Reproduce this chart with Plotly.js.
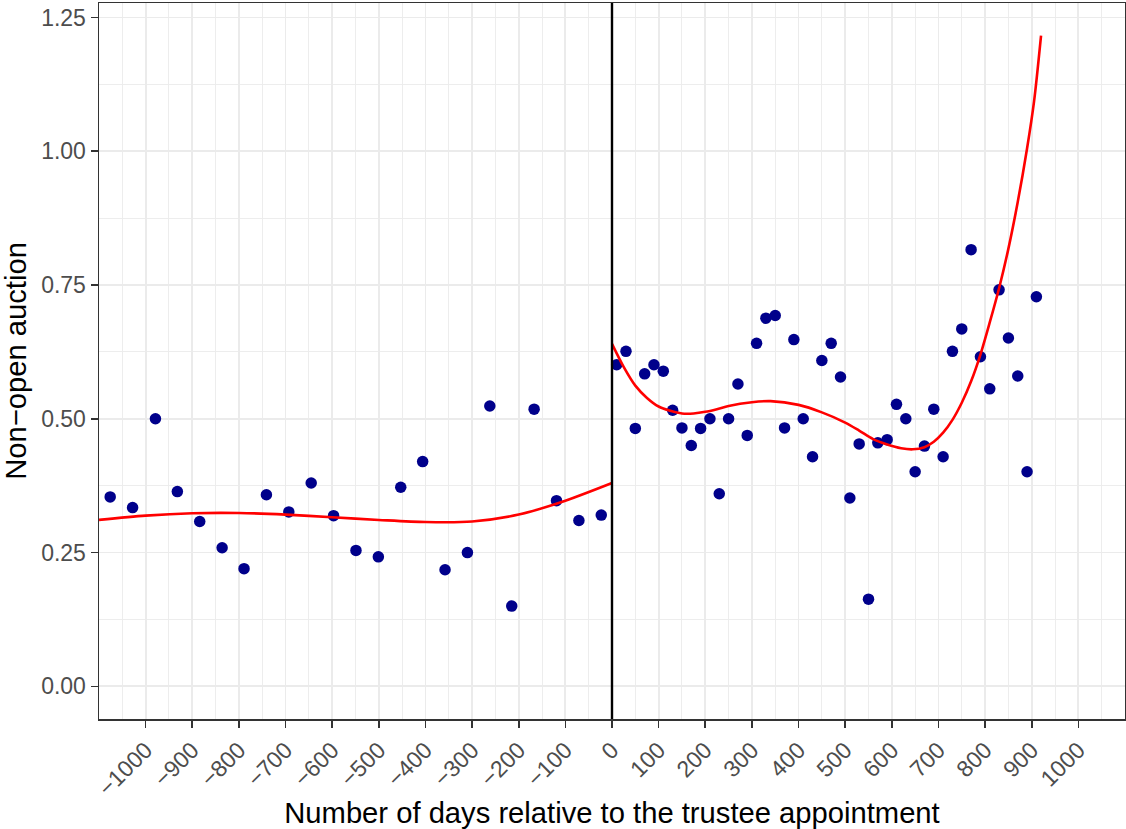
<!DOCTYPE html>
<html>
<head>
<meta charset="utf-8">
<script src="https://cdn.plot.ly/plotly-3.0.1.min.js"></script>
<style>html,body{margin:0;padding:0;background:#fff;}#chart{width:1126px;height:829px;}</style>
</head>
<body>
<div id="chart"></div>
<script>
// Points before the trustee appointment
const leftDays = [-1076, -1028, -979, -932, -884, -836, -789, -741, -693, -645, -597, -549, -501, -453, -406, -358, -310, -262, -215, -167, -119, -71, -23];
const leftShare = [0.354, 0.334, 0.500, 0.364, 0.308, 0.259, 0.220, 0.358, 0.326, 0.380, 0.319, 0.254, 0.242, 0.372, 0.420, 0.218, 0.250, 0.524, 0.150, 0.518, 0.347, 0.310, 0.320];

// Points after the trustee appointment
const rightDays = [10, 30, 50, 70, 90, 110, 130, 150, 170, 190, 210, 230, 250, 270, 290, 310, 330, 350, 370, 390, 410, 430, 450, 470, 490, 510, 530, 550, 570, 590, 610, 630, 650, 670, 690, 710, 730, 750, 770, 790, 810, 830, 850, 870, 890, 910];
const rightShare = [0.601, 0.626, 0.482, 0.584, 0.601, 0.589, 0.516, 0.483, 0.450, 0.482, 0.500, 0.360, 0.500, 0.565, 0.469, 0.641, 0.688, 0.693, 0.483, 0.648, 0.500, 0.429, 0.609, 0.641, 0.578, 0.352, 0.453, 0.163, 0.455, 0.461, 0.527, 0.500, 0.401, 0.449, 0.518, 0.429, 0.626, 0.668, 0.816, 0.616, 0.556, 0.741, 0.651, 0.580, 0.401, 0.728];

// Fitted curves
const leftFitDays = [-1100, -1000, -900, -800, -700, -600, -500, -400, -300, -200, -100, 0];
const leftFit = [0.311, 0.319, 0.3235, 0.324, 0.321, 0.316, 0.311, 0.307, 0.308, 0.321, 0.347, 0.380];
const rightFitDays = [0, 25, 50, 75, 100, 125, 150, 175, 200, 225, 250, 300, 340, 400, 450, 500, 530, 560, 590, 620, 645, 670, 690, 710, 730, 750, 770, 790, 810, 830, 850, 870, 890, 905, 920];
const rightFit = [0.640, 0.597, 0.562, 0.539, 0.523, 0.515, 0.510, 0.510, 0.513, 0.518, 0.524, 0.531, 0.533, 0.526, 0.512, 0.493, 0.478, 0.462, 0.452, 0.445, 0.443, 0.447, 0.457, 0.474, 0.498, 0.530, 0.570, 0.620, 0.680, 0.744, 0.818, 0.905, 1.005, 1.093, 1.216];

// Tick labels
const xTickVals = [-1000, -900, -800, -700, -600, -500, -400, -300, -200, -100, 0, 100, 200, 300, 400, 500, 600, 700, 800, 900, 1000];
const xTickText = ["\u22121000", "\u2212900", "\u2212800", "\u2212700", "\u2212600", "\u2212500", "\u2212400", "\u2212300", "\u2212200", "\u2212100", "0", "100", "200", "300", "400", "500", "600", "700", "800", "900", "1000"];
const yTickVals = [0, 0.25, 0.5, 0.75, 1.0, 1.25];
const yTickText = ["0.00", "0.25", "0.50", "0.75", "1.00", "1.25"];

const ptColor = '#00008B';
const fitColor = '#FF0000';
const font = '"Liberation Sans", Arial, sans-serif';

const traces = [
  {x: leftDays, y: leftShare, type: 'scatter', mode: 'markers', marker: {color: ptColor, size: 11.5}, showlegend: false},
  {x: rightDays, y: rightShare, type: 'scatter', mode: 'markers', marker: {color: ptColor, size: 11.5}, showlegend: false},
  {x: leftFitDays, y: leftFit, type: 'scatter', mode: 'lines', line: {color: fitColor, width: 2.6, shape: 'spline', smoothing: 0.8}, showlegend: false},
  {x: rightFitDays, y: rightFit, type: 'scatter', mode: 'lines', line: {color: fitColor, width: 2.6, shape: 'spline', smoothing: 0.8}, showlegend: false}
];

const axisCommon = {
  showline: true, mirror: true, linecolor: '#333333', linewidth: 1.5,
  ticks: 'outside', ticklen: 7, tickwidth: 1.6, tickcolor: '#333333',
  showgrid: true, gridcolor: '#EBEBEB', gridwidth: 1.8,
  zeroline: false,
  tickfont: {family: font, size: 23, color: '#4D4D4D'}
};

const layout = {
  width: 1126, height: 829,
  margin: {l: 99, r: 1, t: 3, b: 110},
  paper_bgcolor: '#FFFFFF', plot_bgcolor: '#FFFFFF',
  font: {family: font},
  xaxis: Object.assign({}, axisCommon, {
    range: [-1100, 1100],
    tickmode: 'array', tickvals: xTickVals, ticktext: xTickText,
    tickangle: -45,
    minor: {dtick: 50, tick0: 0, showgrid: true, gridcolor: '#EBEBEB', gridwidth: 0.9, ticks: ''},
    title: {text: 'Number of days relative to the trustee appointment', font: {family: font, size: 29.2, color: '#000000'}, standoff: 14},
    automargin: false
  }),
  yaxis: Object.assign({}, axisCommon, {
    range: [-0.061, 1.277],
    tickmode: 'array', tickvals: yTickVals, ticktext: yTickText,
    minor: {dtick: 0.125, tick0: 0, showgrid: true, gridcolor: '#EBEBEB', gridwidth: 0.9, ticks: ''},
    title: {text: 'Non\u2212open auction', font: {family: font, size: 29.2, color: '#000000'}, standoff: 8},
    automargin: false
  }),
  shapes: [
    {type: 'line', xref: 'x', yref: 'paper', x0: 0, x1: 0, y0: 0, y1: 1, line: {color: '#000000', width: 2.4}, layer: 'above'}
  ]
};

Plotly.newPlot('chart', traces, layout, {displayModeBar: false, staticPlot: true});
</script>
</body>
</html>
